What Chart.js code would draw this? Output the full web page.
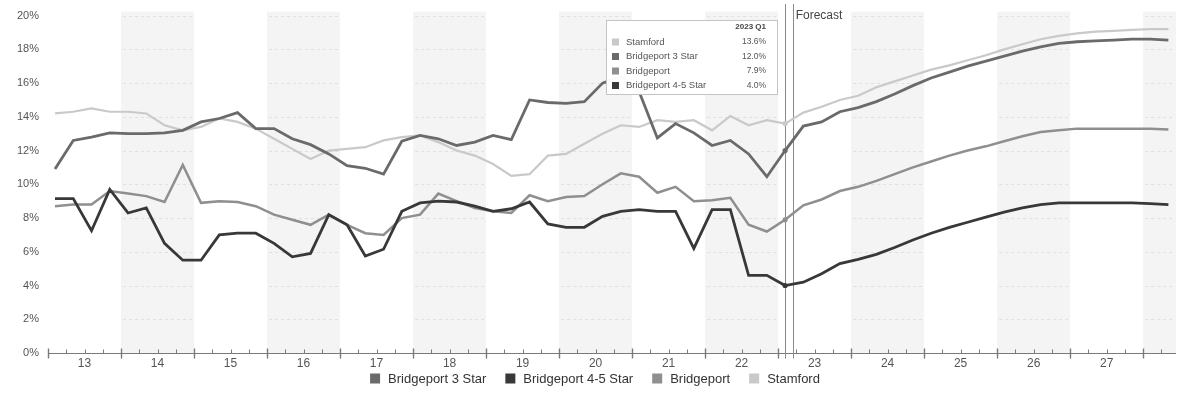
<!DOCTYPE html>
<html>
<head>
<meta charset="utf-8">
<script src="https://cdn.jsdelivr.net/npm/chart.js@4/dist/chart.umd.min.js"></script>
<style>
  html, body { margin: 0; padding: 0; background: #ffffff; }
  #wrap { width: 1178px; height: 393px; position: relative; }
</style>
</head>
<body>
<div id="wrap"><canvas id="c" width="1178" height="393"></canvas></div>
<script>
// Quarterly vacancy rates, 2013 Q1 through 2028 Q2 (forecast from 2023 Q2)
const firstYear = 2013;
const quarterCount = 62;
const currentIndex = 40;            // 2023 Q1
const currentLabel = '2023 Q1';

const quarters = [];
for (let i = 0; i < quarterCount; i++) {
  quarters.push((firstYear + Math.floor(i / 4)) + ' Q' + (i % 4 + 1));
}

const bridgeport3Star = [
  10.9, 12.6, 12.8, 13.05, 13.0, 13.0, 13.05, 13.2, 13.7, 13.9,
  14.25, 13.3, 13.3, 12.7, 12.35, 11.8, 11.1, 10.95, 10.6, 12.55,
  12.9, 12.7, 12.3, 12.5, 12.9, 12.65, 15.0, 14.85, 14.8, 14.9,
  16.0, 16.4, 15.5, 12.75, 13.6, 13.05, 12.3, 12.6, 11.8, 10.45,
  12.0, 13.45, 13.7, 14.3, 14.55, 14.9, 15.35, 15.85, 16.3, 16.65,
  17.0, 17.3, 17.6, 17.9, 18.15, 18.35, 18.45, 18.5, 18.55, 18.6,
  18.6, 18.55
];

const bridgeport45Star = [
  9.15, 9.15, 7.25, 9.7, 8.3, 8.6, 6.5, 5.5, 5.5, 7.0,
  7.1, 7.1, 6.5, 5.7, 5.9, 8.2, 7.6, 5.75, 6.15, 8.4,
  8.9, 9.0, 8.95, 8.7, 8.4, 8.55, 8.95, 7.65, 7.45, 7.45,
  8.1, 8.4, 8.5, 8.4, 8.4, 6.2, 8.5, 8.5, 4.6, 4.6,
  4.0, 4.2, 4.7, 5.3, 5.55, 5.85, 6.25, 6.7, 7.1, 7.45,
  7.75, 8.05, 8.35, 8.6, 8.8, 8.9, 8.9, 8.9, 8.9, 8.9,
  8.85, 8.8
];

const bridgeport = [
  8.7, 8.8, 8.8, 9.6, 9.45, 9.3, 8.95, 11.15, 8.9, 9.0,
  8.95, 8.7, 8.2, 7.9, 7.6, 8.2, 7.6, 7.1, 7.0, 8.0,
  8.2, 9.45, 9.0, 8.6, 8.4, 8.3, 9.35, 9.0, 9.25, 9.3,
  10.0, 10.65, 10.45, 9.5, 9.85, 9.0, 9.05, 9.2, 7.6, 7.2,
  7.9, 8.75, 9.1, 9.6, 9.85, 10.2, 10.6, 11.0, 11.35, 11.7,
  12.0, 12.25, 12.55, 12.85, 13.1, 13.2, 13.3, 13.3, 13.3, 13.3,
  13.3, 13.25
];

const stamford = [
  14.2, 14.3, 14.5, 14.3, 14.3, 14.2, 13.5, 13.2, 13.4, 13.9,
  13.7, 13.3, 12.7, 12.1, 11.5, 12.0, 12.1, 12.2, 12.6, 12.8,
  12.9, 12.5, 12.0, 11.7, 11.2, 10.5, 10.6, 11.7, 11.8, 12.4,
  13.0, 13.5, 13.4, 13.8, 13.7, 13.8, 13.2, 14.05, 13.5, 13.8,
  13.6, 14.25, 14.6, 15.0, 15.25, 15.75, 16.1, 16.45, 16.8, 17.05,
  17.35, 17.65, 18.0, 18.3, 18.6, 18.8, 18.95, 19.05, 19.1, 19.15,
  19.2, 19.2
];

const yearLabels = ['13','14','15','16','17','18','19','20','21','22','23','24','25','26','27'];
const yTickValues = [0, 2, 4, 6, 8, 10, 12, 14, 16, 18, 20];

const seriesNames  = ['Bridgeport 3 Star', 'Bridgeport 4-5 Star', 'Bridgeport', 'Stamford'];
const seriesValues = [bridgeport3Star, bridgeport45Star, bridgeport, stamford];
const seriesColors = ['#6a6a6a', '#383838', '#8f8f8f', '#c9c9c9'];
const seriesWidths = [2.8, 2.8, 2.5, 2.2];

// position of a quarter on the continuous year axis
const xMin = 2013, xMax = 2028.45;
function quarterX(i) { return firstYear + i * 0.25 + 0.096; }
const forecastStartX = 2023.2;

const FONT = '"Liberation Sans", Arial, Helvetica, sans-serif';

const datasets = seriesNames.map((name, s) => ({
  label: name,
  data: seriesValues[s].map((v, i) => ({ x: quarterX(i), y: v })),
  borderColor: seriesColors[s],
  backgroundColor: seriesColors[s],
  borderWidth: seriesWidths[s],
  pointRadius: seriesValues[s].map((v, i) => i === currentIndex ? 2.6 : 0),
  pointBorderWidth: 0,
  pointBackgroundColor: seriesColors[s],
  tension: 0,
  fill: false
}));

// shaded alternate years, faint gridlines inside them, axis with quarter ticks, forecast markers
const backdrop = {
  id: 'backdrop',
  beforeDatasetsDraw(chart) {
    const { ctx, chartArea: a, scales: { x, y } } = chart;
    ctx.save();
    for (let yr = 2014; yr <= 2028; yr += 2) {
      const x0 = Math.max(x.getPixelForValue(yr), a.left);
      const x1 = Math.min(x.getPixelForValue(yr + 1), a.right);
      if (x1 <= x0) continue;
      ctx.fillStyle = '#f4f4f4';
      ctx.fillRect(x0, a.top - 4, x1 - x0, a.bottom - a.top + 4);
      ctx.strokeStyle = '#e0e0e0';
      ctx.lineWidth = 1;
      ctx.setLineDash([3, 3]);
      yTickValues.forEach(v => {
        if (v === 0) return;
        const py = Math.round(y.getPixelForValue(v)) + 0.5;
        ctx.beginPath(); ctx.moveTo(x0 + 2, py); ctx.lineTo(x1 - 2, py); ctx.stroke();
      });
      ctx.setLineDash([]);
    }
    // x axis line
    const ay = Math.round(a.bottom) + 0.5;
    ctx.strokeStyle = '#7a7a7a';
    ctx.lineWidth = 1;
    ctx.beginPath(); ctx.moveTo(a.left, ay); ctx.lineTo(a.right, ay); ctx.stroke();
    // quarter and year ticks
    for (let q = xMin; q <= xMax + 1e-6; q += 0.25) {
      const px = Math.round(x.getPixelForValue(q)) + 0.5;
      const major = Math.abs(q - Math.round(q)) < 1e-6;
      ctx.lineWidth = major ? 1.4 : 1;
      ctx.beginPath();
      ctx.moveTo(px, major ? ay - 5 : ay - 4);
      ctx.lineTo(px, major ? ay + 5 : ay);
      ctx.stroke();
    }
    // current quarter and forecast markers
    ctx.strokeStyle = '#8a8a8a';
    ctx.lineWidth = 1;
    [quarterX(currentIndex), forecastStartX].forEach(v => {
      const px = Math.round(x.getPixelForValue(v)) + 0.5;
      ctx.beginPath(); ctx.moveTo(px, 4); ctx.lineTo(px, ay + 5); ctx.stroke();
    });
    ctx.fillStyle = '#444';
    ctx.font = '12px ' + FONT;
    ctx.textAlign = 'left';
    ctx.textBaseline = 'middle';
    ctx.fillText('Forecast', x.getPixelForValue(forecastStartX) + 3, 16);
    ctx.restore();
  },
  afterDatasetsDraw(chart) {
    // value box for the current quarter
    const { ctx } = chart;
    const bx = 606, by = 20, bw = 171, bh = 74;
    ctx.save();
    ctx.fillStyle = 'rgba(255,255,255,0.97)';
    ctx.fillRect(bx, by, bw, bh);
    ctx.strokeStyle = '#c4c4c4';
    ctx.lineWidth = 1;
    ctx.strokeRect(bx + 0.5, by + 0.5, bw, bh);
    ctx.fillStyle = '#444';
    ctx.font = 'bold 8px ' + FONT;
    ctx.textAlign = 'right';
    ctx.textBaseline = 'middle';
    ctx.fillText(currentLabel, bx + 160, by + 7);
    const order = seriesNames.map((n, s) => s)
      .sort((p, q) => seriesValues[q][currentIndex] - seriesValues[p][currentIndex]);
    order.forEach((s, r) => {
      const ry = by + 22 + r * 14.5;
      ctx.fillStyle = seriesColors[s];
      ctx.fillRect(bx + 6, ry - 3.5, 7, 7);
      ctx.fillStyle = '#555';
      ctx.font = '9.5px ' + FONT;
      ctx.textAlign = 'left';
      ctx.fillText(seriesNames[s], bx + 20, ry);
      ctx.font = '8.5px ' + FONT;
      ctx.textAlign = 'right';
      ctx.fillText(seriesValues[s][currentIndex].toFixed(1) + '%', bx + 160, ry);
    });
    ctx.restore();
  },
  afterDraw(chart) {
    // series legend under the axis
    const { ctx } = chart;
    ctx.save();
    ctx.font = '13px ' + FONT;
    ctx.textBaseline = 'middle';
    const box = 10, gap = 8, spacing = 19;
    const widths = seriesNames.map(n => box + gap + ctx.measureText(n).width);
    const total = widths.reduce((p, w) => p + w, 0) + spacing * (widths.length - 1);
    let lx = 595 - total / 2;
    const ly = 378.5;
    seriesNames.forEach((n, s) => {
      ctx.fillStyle = seriesColors[s];
      ctx.fillRect(lx, ly - box / 2, box, box);
      ctx.fillStyle = '#333';
      ctx.textAlign = 'left';
      ctx.fillText(n, lx + box + gap, ly + 0.5);
      lx += widths[s] + spacing;
    });
    ctx.restore();
  }
};

new Chart(document.getElementById('c'), {
  type: 'line',
  data: { datasets },
  options: {
    responsive: false,
    animation: false,
    devicePixelRatio: 1,
    layout: { padding: { top: 13, right: 2, left: 0, bottom: 0 } },
    plugins: { legend: { display: false }, tooltip: { enabled: false } },
    scales: {
      x: {
        type: 'linear',
        min: xMin,
        max: xMax,
        grid: { display: false, drawTicks: false },
        border: { display: false },
        afterBuildTicks(scale) {
          scale.ticks = yearLabels.map((l, i) => ({ value: firstYear + i + 0.5 }));
        },
        afterFit(scale) { scale.height = 40; },
        ticks: {
          autoSkip: false,
          maxRotation: 0,
          padding: 3,
          color: '#555',
          font: { family: FONT, size: 12 },
          callback: (v, i) => yearLabels[i]
        }
      },
      y: {
        min: 0,
        max: 20,
        grid: { display: false, drawTicks: false },
        border: { display: false },
        afterBuildTicks(scale) {
          scale.ticks = yTickValues.map(v => ({ value: v }));
        },
        afterFit(scale) { scale.width = 48; },
        ticks: {
          padding: 9,
          color: '#555',
          font: { family: FONT, size: 11 },
          callback: v => v + '%'
        }
      }
    }
  },
  plugins: [backdrop]
});
</script>
</body>
</html>
